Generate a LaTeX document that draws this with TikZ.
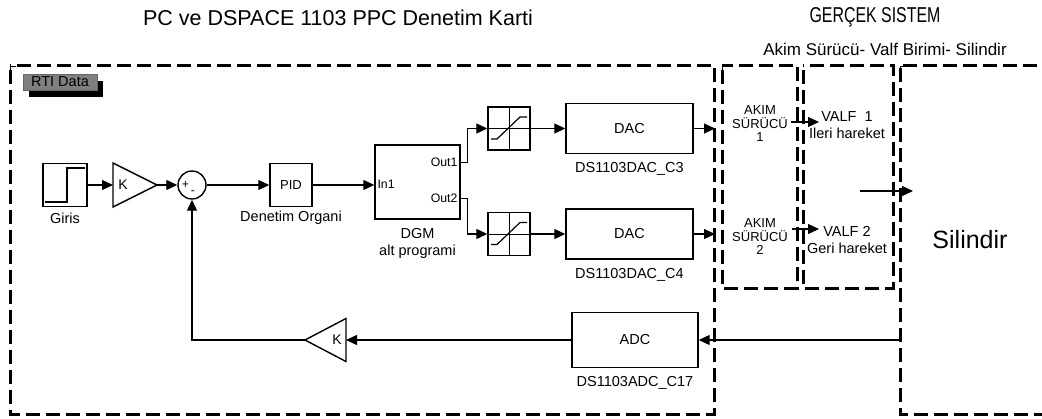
\documentclass[tikz,border=0pt]{standalone}
\usepackage{fontspec}
\setmainfont{Liberation Sans}
\usepackage{graphicx}
\usetikzlibrary{arrows.meta,positioning,calc,shadows}
\newcommand{\lblfont}{\fontsize{14.5}{17}\selectfont}
\newcommand{\ttlfont}{\fontsize{21.5}{24}\selectfont}
\newcommand{\portfont}{\fontsize{12.3}{14}\selectfont}
\tikzset{
  blk/.style   ={draw, line width=1.4pt, inner sep=0pt, font=\lblfont, align=center},
  hid/.style   ={inner sep=0pt, outer sep=0pt},
  txt/.style   ={inner sep=0pt, font=\lblfont, align=center},
  port/.style  ={inner sep=0pt, font=\portfont},
  wire/.style  ={line width=1.2pt},
  flow/.style  ={-{Triangle[length=11pt,width=10pt]}, line width=1.2pt},
  grp/.style   ={draw, line width=3pt, dash pattern=on 14pt off 6pt, dash phase=-5pt},
  crn/.style   ={draw, line width=.8pt},
  rti/.style   ={draw=black!60, fill=black!50, line width=.8pt, inner sep=0pt,
                 minimum width=74pt, minimum height=16pt, font=\lblfont,
                 drop shadow={shadow xshift=6pt, shadow yshift=-7pt, opacity=1, fill=black}},
}
\begin{document}
\begin{tikzpicture}[x=1pt,y=-1pt]
  \useasboundingbox (0,0) rectangle (1042,418);
  % titles
  \node[txt, font=\ttlfont](ttlpc) at (338,17.5){PC ve DSPACE 1103 PPC Denetim Karti};
  \node[txt, font=\ttlfont](ttlsys) at (875,17.5){\scalebox{0.74}[1]{GERÇEK SISTEM}};
  \node[txt, font=\fontsize{17}{20}\selectfont](ttlsub) at (885,49){Akim Sürücü- Valf Birimi- Silindir};
  % dashed groups
  \draw[grp] (10,65) rectangle (714,414);
  \draw[grp] (722,65) rectangle (797,288);
  \draw[grp] (803,65) rectangle (893,288);
  \draw[grp] (1042,65) -- (900,65) -- (900,414) -- (1042,414);
  \draw[crn] (10,72) -- (10,66) -- (16,66);
  \draw[crn] (722,72) -- (722,66) -- (728,66);
  \draw[crn] (900,72) -- (900,66) -- (906,66);
  \node[rti](rtidata) at (60,82){RTI Data};
  % forward path
  \node[blk, minimum width=44pt, minimum height=43pt](giris) at (65,185){};
  \draw[wire] ($(giris.center)+(-20,17)$) -- ++(22,0) -- ++(0,-34) -- ++(18,0);
  \node[txt](girisL) at (65,218){Giris};
  \node[hid, minimum width=44pt, minimum height=44pt](gain1) at (135,185){};
  \draw[line width=1.4pt] (gain1.north west) -- (gain1.east) -- (gain1.south west) -- cycle;
  \node[txt, font=\fontsize{14}{14}\selectfont](gain1K) at ($(gain1.west)+(10,0)$){K};
  \node[circle, draw, line width=1.4pt, minimum size=28pt, inner sep=0pt](sum) at (192,185){};
  \node[port](sumP) at (185.5,185){+};
  \node[port](sumM) at (193,193){-};
  \node[blk, minimum width=42pt, minimum height=43pt, font=\fontsize{13}{13}\selectfont](pid) at (291,185){PID};
  \node[txt](pidL) at (291,218){Denetim Organi};
  \node[blk, minimum width=85pt, minimum height=74pt](dgm) at (417.5,182){};
  \node[port, anchor=west](in1) at ($(dgm.north west)+(3,40)$){In1};
  \node[port, anchor=east](out1) at ($(dgm.north east)+(-3,18)$){Out1};
  \node[port, anchor=east](out2) at ($(dgm.north east)+(-3,54)$){Out2};
  \node[txt](dgmL) at (417.5,243.5){DGM\\alt programi};
  % saturation + DAC
  \foreach \i/\y in {1/128.5, 2/234}{
    \node[blk, minimum width=42pt, minimum height=43pt](sat\i) at (509,\y){};
    \draw[line width=.8pt] (sat\i.north) -- (sat\i.south) (sat\i.west) -- (sat\i.east);
    \draw[wire] ($(sat\i.center)+(-18,10.5)$) -- ++(6,0) -- ++(23,-22) -- ++(7,0);
    \node[blk, minimum width=127pt, minimum height=50pt](dac\i) at (629.5,\y){DAC};
    \coordinate (dacout\i) at (715,\y);
    \draw[flow] (sat\i.east) -- (dac\i.west);
    \draw[flow] (dac\i.east) -- (dacout\i);
  }
  \node[txt](dac1L) at (629.5,169){DS1103DAC\_C3};
  \node[txt](dac2L) at (629.5,275){DS1103DAC\_C4};
  \draw[flow] (giris.east) -- (gain1.west);
  \draw[flow] (gain1.east) -- (sum.west);
  \draw[flow] (sum.east) -- (pid.west);
  \draw[flow] (pid.east) -- (pid.east -| dgm.west);
  \draw[flow] (out1.east -| dgm.east) -- ++(7,0) |- (sat1.west);
  \draw[flow] (out2.east -| dgm.east) -- ++(7,0) |- (sat2.west);
  % feedback
  \node[blk, minimum width=126pt, minimum height=55pt](adc) at (635,340){ADC};
  \node[txt](adcL) at (635,383){DS1103ADC\_C17};
  \node[hid, minimum width=41pt, minimum height=43pt](gain2) at (325.5,340){};
  \draw[line width=1.4pt] (gain2.north east) -- (gain2.west) -- (gain2.south east) -- cycle;
  \node[txt, font=\fontsize{14}{14}\selectfont](gain2K) at ($(gain2.east)+(-9,0)$){K};
  \coordinate (silout) at (899,340);
  \draw[flow] (silout) -- (adc.east);
  \draw[flow] (adc.west) -- (gain2.east);
  \draw[flow] (gain2.west) -| (sum.south);
  % real system
  \node[txt, font=\fontsize{13}{13.5}\selectfont](akim1) at (760,124){AKIM\\SÜRÜCÜ\\1};
  \node[txt, font=\fontsize{13}{13.5}\selectfont](akim2) at (760,237){AKIM\\SÜRÜCÜ\\2};
  \node[txt](valf1) at (847,125.5){VALF\ \ 1\\Ileri hareket};
  \node[txt](valf2) at (847,240.5){VALF 2\\Geri hareket};
  \node[txt, font=\fontsize{25}{28}\selectfont](silindir) at (970,240){Silindir};
  \draw[flow] ($(akim1.east)+(3,-2)$) -- ++(28,0);
  \draw[flow] ($(akim2.east)+(4,-8)$) -- ++(27,0);
  \coordinate (valfout) at (860,191);
  \coordinate (silin) at (913,191);
  \draw[flow] (valfout) -- (silin);
\end{tikzpicture}
\end{document}
